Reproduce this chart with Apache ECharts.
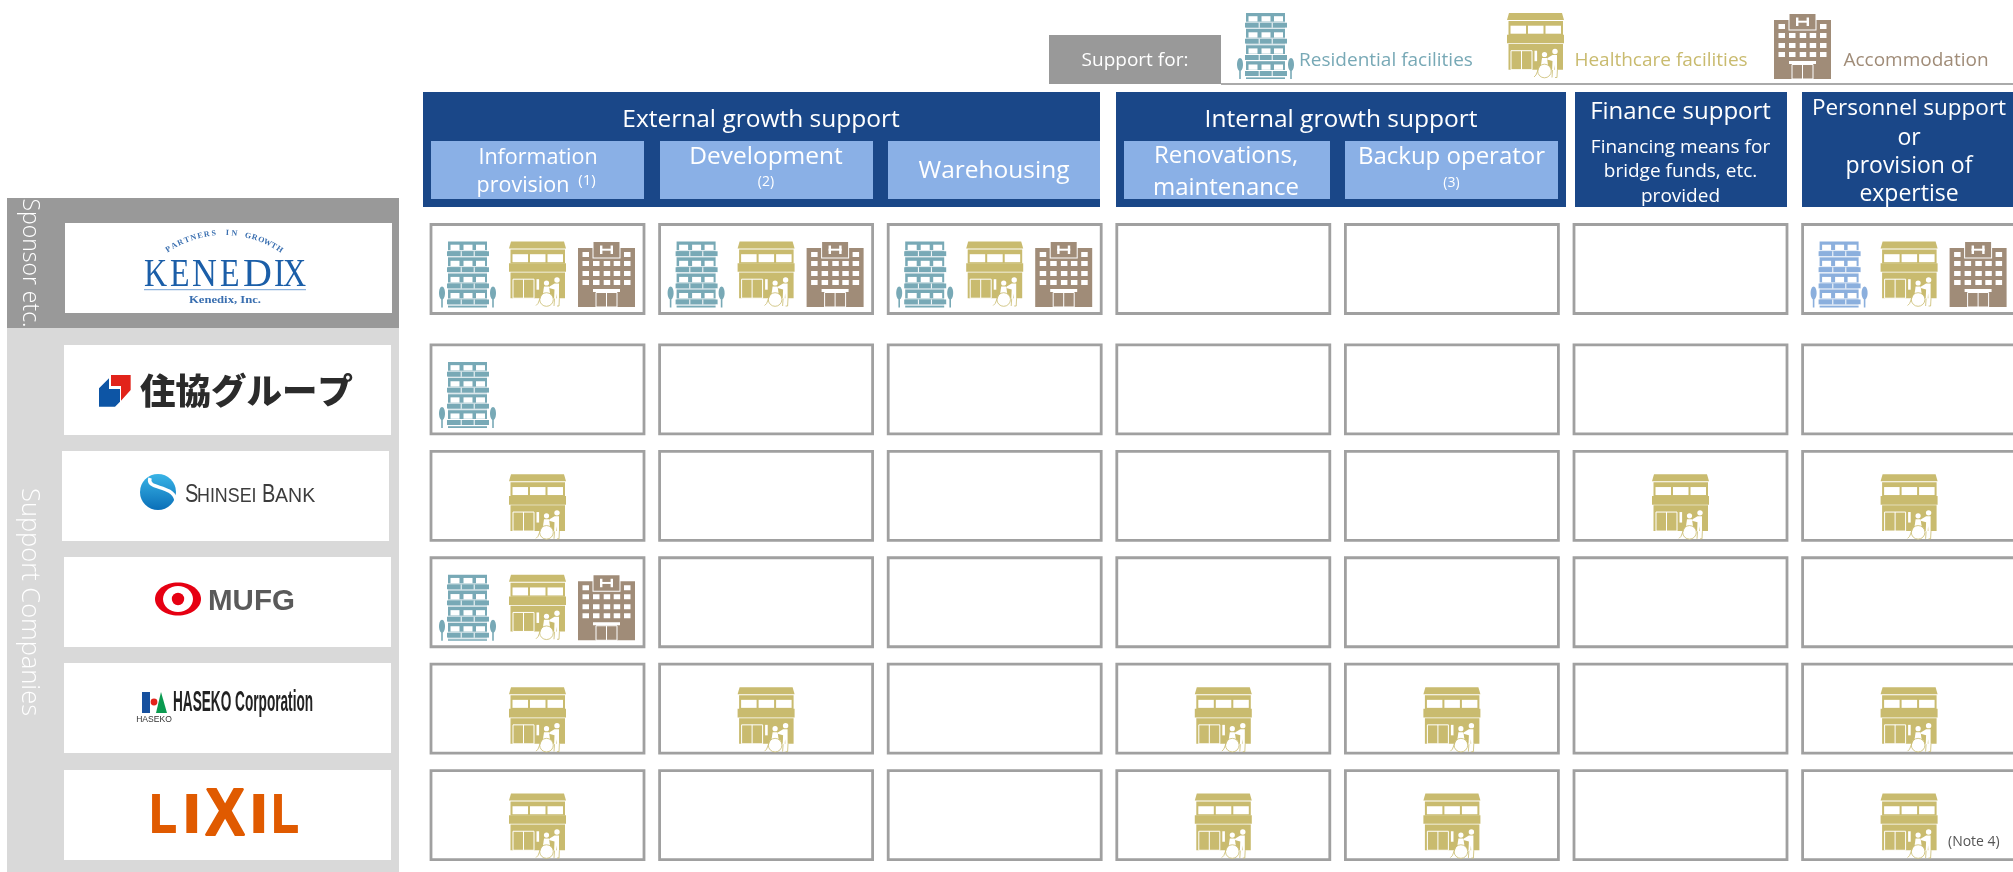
<!DOCTYPE html>
<html><head><meta charset="utf-8">
<style>html,body{margin:0;padding:0;background:#fff}#c{width:2013px;height:872px}</style>
<script src="https://cdn.jsdelivr.net/npm/echarts@6/dist/echarts.min.js"></script>
</head><body><div id="c"></div>
<script>
// ---------- data ----------
const supportColumns = ['Information provision','Development','Warehousing','Renovations, maintenance','Backup operator','Finance support','Personnel support or provision of expertise'];
const sponsorRow = ['Kenedix'];
const companyRows = ['Sumikyo Group','Shinsei Bank','MUFG','HASEKO Corporation','LIXIL'];
// R residential, H healthcare, A accommodation
const kenedixSupport = ['RHA','RHA','RHA','','','','RHA'];
const sumikyoSupport = ['R','','','','','',''];
const shinseiSupport = ['H','','','','','H','H'];
const mufgSupport    = ['RHA','','','','','',''];
const hasekoSupport  = ['H','H','','H','H','','H'];
const lixilSupport   = ['H','','','H','H','','H'];
const legendLabels = ['Residential facilities','Healthcare facilities','Accommodation'];

// ---------- styles ----------
const TEAL='#78a9b6', GOLD='#c9bb6f', BROWN='#a08c78', PALE='#8bafdd', NAVY='#1a4788', SKY='#8ab0e6';
const FONT='"Open Sans","Noto Sans",sans-serif';
const rect=(x,y,w,h,fill)=>({type:'rect',silent:true,shape:{x,y,width:w,height:h},style:{fill}});
const poly=(points,fill)=>({type:'polygon',silent:true,shape:{points},style:{fill}});
const circ=(cx,cy,r,fill,stroke,lw)=>({type:'circle',silent:true,shape:{cx,cy,r},style:{fill,stroke:stroke||null,lineWidth:lw||0}});
const ell=(cx,cy,rx,ry,fill)=>({type:'ellipse',silent:true,shape:{cx,cy,rx,ry},style:{fill}});
const txt=(text,x,y,size,fill,o)=>Object.assign({type:'text',silent:true,x,y,style:Object.assign({text,fill,
  fontSize:size,fontFamily:(o&&o.family)||FONT,fontWeight:(o&&o.weight)||400,
  textAlign:(o&&o.align)||'center',textVerticalAlign:'middle'},(o&&o.style)||{})},o&&o.el||{});
const head=(text,x,y,size,fill)=>txt(text,x,y+1.5,size,fill||'#fff');

// ---------- icons (local coordinates) ----------
function residentialIcon(color){
  const k=[];
  for(let i=0;i<4;i++){
    const y=i*16.1;
    k.push(rect(9,y,39,16,color));
    [11.5,24.5,37].forEach(x=>k.push(rect(x,y+3.2,9,5.3,'#fff')));
    k.push(rect(8,y+8.7,42,1,'#fff'));
    k.push(rect(8,y+9.7,42,5,color));
    k.push(rect(8,y+14.7,42,1,'#fff'));
    [21.7,34.7].forEach(x=>k.push(rect(x,y+9.7,1,5,'#fff')));
  }
  k.push(rect(9,64.4,39,1.6,color));
  [3,54].forEach(x=>{k.push(ell(x,51.5,3,6.5,color));k.push(rect(x-0.8,57,1.6,9,color));});
  return k;
}
function healthcareIcon(){
  const W='#fff';
  return [poly([[2,0],[55,0],[57,7],[0,7]],GOLD),
    rect(1.5,8,54.5,14,GOLD),
    rect(3.5,12.7,15.5,8,W),rect(21,12.7,15.5,8,W),rect(38.5,12.7,15.5,8,W),
    rect(0,21.7,57,8.6,GOLD),
    rect(1.5,31,54.5,25.7,GOLD),
    {type:'rect',silent:true,shape:{x:4,y:37.7,width:21,height:19},style:{fill:'none',stroke:W,lineWidth:1}},
    rect(14,37.7,1,19,W),
    rect(27.5,37.7,2.6,10.5,W),
    circ(48,38.5,2.7,W),
    poly([[45.5,42],[50,42],[50,64],[48.3,64],[47.5,52],[46.5,64],[44.8,64],[45.5,48],[40,46.5],[40.5,45]],W),
    circ(37.5,41.5,2.6,W),
    poly([[35,45],[40,45],[41,52],[34,52]],W),
    {type:'circle',silent:true,shape:{cx:37.5,cy:58,r:6.8},style:{fill:W,stroke:GOLD,lineWidth:0.8}},
    {type:'polyline',silent:true,shape:{points:[[33,52],[29,62],[27,64]]},style:{stroke:GOLD,lineWidth:0.8,fill:'none'}},
    {type:'polyline',silent:true,shape:{points:[[45.5,57],[45,64.5]]},style:{stroke:GOLD,lineWidth:0.8,fill:'none'}},
    {type:'polyline',silent:true,shape:{points:[[50.4,56.7],[50,64.5],[48,64.5]]},style:{stroke:GOLD,lineWidth:0.8,fill:'none'}}
  ];
}
function accommodationIcon(){
  const W='#fff',k=[rect(0,7,57,59,BROWN),rect(14.5,0,28,17.5,W),rect(15.5,1,26,15.5,BROWN)];
  k.push(rect(22,4.5,2.4,8.5,W),rect(32.6,4.5,2.4,8.5,W),rect(22,7.7,13,2,W));
  const xs=[4.5,15,25.7,35.7,46];
  [4.5,46].forEach(x=>k.push(rect(x,11,6.5,5,W)));
  [20,30,39].forEach(y=>xs.forEach(x=>k.push(rect(x,y,6.5,5,W))));
  k.push(rect(15,48,27,3,W));
  k.push({type:'rect',silent:true,shape:{x:18,y:51.5,width:21,height:14.5},style:{fill:'none',stroke:W,lineWidth:1}});
  k.push(rect(28,51.5,1,14.5,W));
  return k;
}
const iconAt=(children,x,y)=>({type:'group',silent:true,x,y,children});

// ---------- cell renderer ----------
const cellRenderer=(cells)=>function(params,api){
  const col=api.value(0);
  const cx=api.coord([col,api.value(1)]);
  const code=cells[params.dataIndex].code;
  const BW=213,BH=89,x0=cx[0]-BW/2,y0=cx[1]-BH/2;
  const children=[{type:'rect',shape:{x:x0,y:y0,width:BW,height:BH},style:{fill:'#fff',stroke:'#a0a0a0',lineWidth:2.8}}];
  const lowered=code==='H'?6:0;
  if(code.includes('R')) children.push(iconAt(residentialIcon(col===6?PALE:TEAL),cx[0]-98.5,y0+17));
  if(code.includes('H')) children.push(iconAt(healthcareIcon(),cx[0]-28.5,y0+17+lowered));
  if(code.includes('A')) children.push(iconAt(accommodationIcon(),cx[0]+40.5,y0+16.5));
  return {type:'group',children};
};
const toCells=(rows)=>{const d=[];rows.forEach((r,j)=>r.forEach((code,i)=>d.push({value:[i,j],code})));return d;};

// ---------- fixed page furniture ----------
const g=[];
g.push(rect(7,198,392,130,'#999999'),rect(7,328,392,544,'#d9d9d9'));
[[65,223],[64,345],[62,451],[64,557],[64,663],[64,770]].forEach(p=>g.push(rect(p[0],p[1],327,90,'#fff')));
g.push(txt('Sponsor etc.',30,263,23,'#fff',{weight:300,el:{rotation:-Math.PI/2}}));
g.push(txt('Support Companies',29,602,25.5,'#fff',{weight:300,el:{rotation:-Math.PI/2}}));

// Kenedix logo
const ser='"Liberation Serif",serif', KB='#1b5ea8';
[['K',144,.8],['E',170,.8],['N',192,.86],['E',220,.8],['D',243,1],['I',274,.8],['X',283,.8]].forEach(a=>
  g.push(txt(a[0],a[1],275,40,KB,{family:ser,align:'left',el:{scaleX:a[2]}})));
g.push(rect(144,289,162,1.2,'#8fb3dc'));
g.push(txt('Kenedix, Inc.',225,300,11,'#3a6fb0',{family:ser,weight:700,el:{scaleX:1.15}}));
const arc='PARTNERS IN GROWTH';
[...arc].forEach((ch,i)=>{
  const a=(-33+66*i/(arc.length-1))*Math.PI/180, R=102;
  g.push(txt(ch,224+R*Math.sin(a),335-R*Math.cos(a),8,'#3a6fb0',{family:ser,weight:700,el:{rotation:-a}}));
});
// Sumikyo logo
const Z=(x,y)=>[x/3,190+y/3];
g.push(poly([[333,555],[392,555],[392,600],[363,632],[363,588],[333,588]].map(p=>Z(p[0],p[1])),'#e2231a'));
g.push(poly([[297,595],[327,565],[327,597],[360,597],[360,635],[345,650],[297,650]].map(p=>Z(p[0],p[1])),'#0d55a5'));
g.push(txt('住協グループ',246.5,391,35.5,'#2b2b2b',{family:'"Noto Sans CJK JP"',weight:900}));
// Shinsei logo
g.push({type:'circle',silent:true,shape:{cx:158,cy:492,r:18},style:{fill:{type:'linear',x:0,y:0,x2:0,y2:1,colorStops:[{offset:0,color:'#39b4e6'},{offset:1,color:'#0a6fb8'}]}}});
g.push({type:'bezierCurve',silent:true,shape:{x1:150,y1:478,cpx1:146,cpy1:490,cpx2:172,cpy2:484,x2:176,y2:500},style:{stroke:'#fff',lineWidth:3.5,fill:'none'}});
const NAR='"Liberation Sans Narrow","Liberation Sans"';
g.push(txt('S',185,495,25,'#3c3c3c',{family:NAR,align:'left',el:{scaleX:0.8}}));
g.push(txt('HINSEI',197,496,21,'#3c3c3c',{family:NAR,align:'left',el:{scaleX:0.85}}));
g.push(txt('B',262,495,25,'#3c3c3c',{family:NAR,align:'left',el:{scaleX:0.8}}));
g.push(txt('ANK',275,496,21,'#3c3c3c',{family:NAR,align:'left',el:{scaleX:0.93}}));
// MUFG logo
g.push(ell(178,599,23,16.5,'#e60012'),ell(178,599,15,13,'#fff'),circ(178,599,6.2,'#e60012'));
g.push(txt('MUFG',208,602,29.5,'#5a5a5a',{family:'"Liberation Sans"',weight:700,align:'left'}));
// Haseko logo
g.push(rect(142,692,8,21,'#16509e'),circ(154,702,3.4,'#e2231a'));
g.push(poly([[161,692],[167,713],[156,713]],'#0a9a50'));
g.push(txt('HASEKO',154,720,9,'#333',{family:NAR,el:{scaleX:0.95}}));
g.push(txt('HASEKO Corporation',173,703,29,'#222',{family:NAR,weight:700,align:'left',el:{scaleX:0.47}}));
// LIXIL logo
const LX='#e05a00',LF='"Liberation Sans"';
[['L',150,54,0.8],['I',183.5,54,1.1],['X',225,66,0.9],['I',250.5,54,1.1],['L',272,54,0.8]].forEach(a=>
  g.push(txt(a[0],a[1],817,a[2],LX,{family:LF,weight:700,align:a[0]==='X'?'center':'left',style:{stroke:LX,lineWidth:2},el:{scaleX:a[3]}})));

// legend strip
g.push(rect(1049,35,172,49,'#999999'),rect(1221,83,792,2,'#aaaaaa'));
g.push(head('Support for:',1135,59,19));
g.push(iconAt(residentialIcon(TEAL),1237,13),iconAt(healthcareIcon(),1507,13),iconAt(accommodationIcon(),1774,13));
g.push(head(legendLabels[0],1386,59,19,TEAL));
g.push(head(legendLabels[1],1661,59,19,GOLD));
g.push(head(legendLabels[2],1916,59,19,BROWN));

// header blocks
g.push(rect(423,92,677,115,NAVY),rect(1116,92,450,115,NAVY),rect(1575,92,212,115,NAVY),rect(1802,92,211,115,NAVY));
[[431,213],[660,213],[888,212],[1124,206],[1345,213]].forEach(p=>g.push(rect(p[0],141,p[1],58,SKY)));
g.push(head('External growth support',761,119,24.5));
g.push(head('Information',538,156,21.5),head('provision',523,184,21.5),head('(1)',587,179,15));
g.push(head('Development',766,156,24.5),head('(2)',766,181,14));
g.push(head('Warehousing',994,170,24.5));
g.push(head('Internal growth support',1341,119,24.5));
g.push(head('Renovations,',1226,155,24),head('maintenance',1226,187,24));
g.push(head('Backup operator',1451.5,156,24),head('(3)',1451.5,182,14));
g.push(head('Finance support',1680.5,111,24));
g.push(head('Financing means for',1680.5,146,19),head('bridge funds, etc.',1680.5,170,19),head('provided',1680.5,195,19));
g.push(head('Personnel support',1909,107,22.5),head('or',1909,137,23),head('provision of',1909,165,23),head('expertise',1909,193,23));
g.push(txt('(Note 4)',1948,842,14,'#555',{align:'left',el:{z:20}}));

// ---------- chart ----------
const hiddenAxis=(type,data,gridIndex,inverse)=>({type,data,gridIndex,inverse:!!inverse,show:false,boundaryGap:true});
const sponsorCells=toCells([kenedixSupport]);
const companyCells=toCells([sumikyoSupport,shinseiSupport,mufgSupport,hasekoSupport,lixilSupport]);
const chart=echarts.init(document.getElementById('c'),null,{renderer:'canvas'});
chart.setOption({
  animation:false,backgroundColor:'#fff',tooltip:{show:false},
  grid:[
    {left:423.2,width:1600.2,top:223.5,height:91,outerBoundsMode:'none'},
    {left:423.2,width:1600.2,top:336.25,height:532,outerBoundsMode:'none'}
  ],
  xAxis:[hiddenAxis('category',supportColumns,0),hiddenAxis('category',supportColumns,1)],
  yAxis:[hiddenAxis('category',sponsorRow,0,true),hiddenAxis('category',companyRows,1,true)],
  graphic:{elements:g},
  series:[
    {type:'custom',xAxisIndex:0,yAxisIndex:0,clip:false,silent:true,renderItem:cellRenderer(sponsorCells),encode:{x:0,y:1},data:sponsorCells},
    {type:'custom',xAxisIndex:1,yAxisIndex:1,clip:false,silent:true,renderItem:cellRenderer(companyCells),encode:{x:0,y:1},data:companyCells}
  ]
});
</script></body></html>
